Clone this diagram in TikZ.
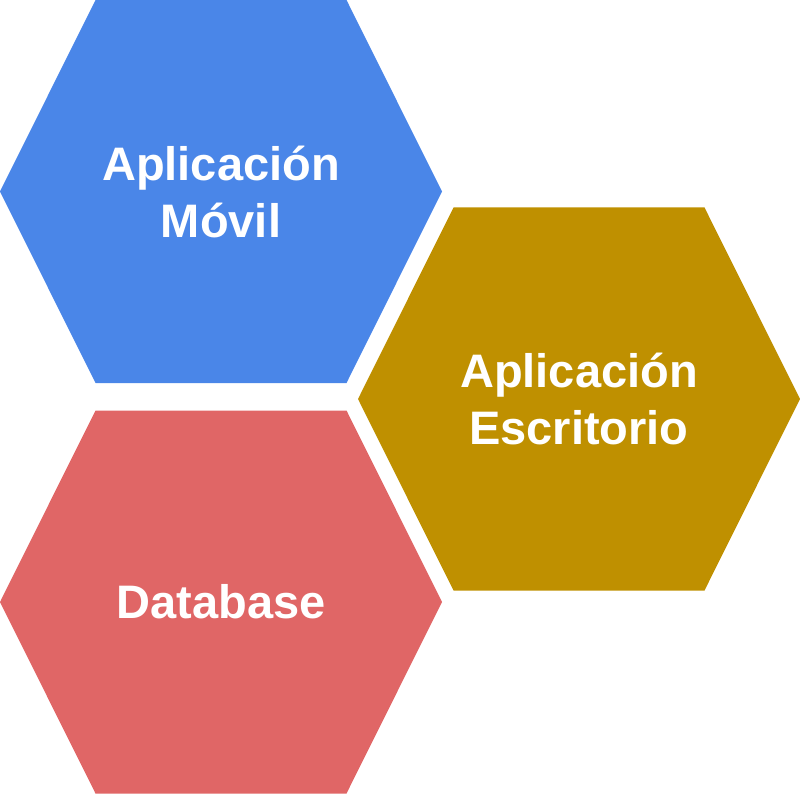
\documentclass[tikz,border=0pt]{standalone}
\usepackage{fontspec}
\setmainfont{Liberation Sans}
\usetikzlibrary{positioning,backgrounds}

\definecolor{movilblue}{HTML}{4A86E8}
\definecolor{escritoriogold}{HTML}{BF9000}
\definecolor{databasered}{HTML}{E06666}

\begin{document}
\begin{tikzpicture}[
      hexa/.style={rectangle, minimum width=442pt, minimum height=383pt,
        inner sep=0pt, outer sep=0pt, text=white, align=center,
        font=\fontsize{47}{57}\selectfont\bfseries},
    ]
      \useasboundingbox (0pt,0pt) rectangle (800pt,-794pt);
      \node[hexa] (movil) at (221pt,-191.5pt) {Aplicación\\Móvil};
      \node[hexa, below=27.5pt of movil] (database) {Database};
      \node[hexa] (escritorio) at ([shift={(358pt,-207.5pt)}]movil.center) {Aplicación\\Escritorio};
      % hexagons behind the labels
      \begin{scope}[on background layer]
        \foreach \hex/\col in {movil/movilblue, database/databasered, escritorio/escritoriogold}
          \fill[\col] (\hex.west) -- ([xshift=-125.5pt]\hex.north) -- ([xshift=125.5pt]\hex.north)
            -- (\hex.east) -- ([xshift=125.5pt]\hex.south) -- ([xshift=-125.5pt]\hex.south) -- cycle;
      \end{scope}
    \end{tikzpicture}
\end{document}
